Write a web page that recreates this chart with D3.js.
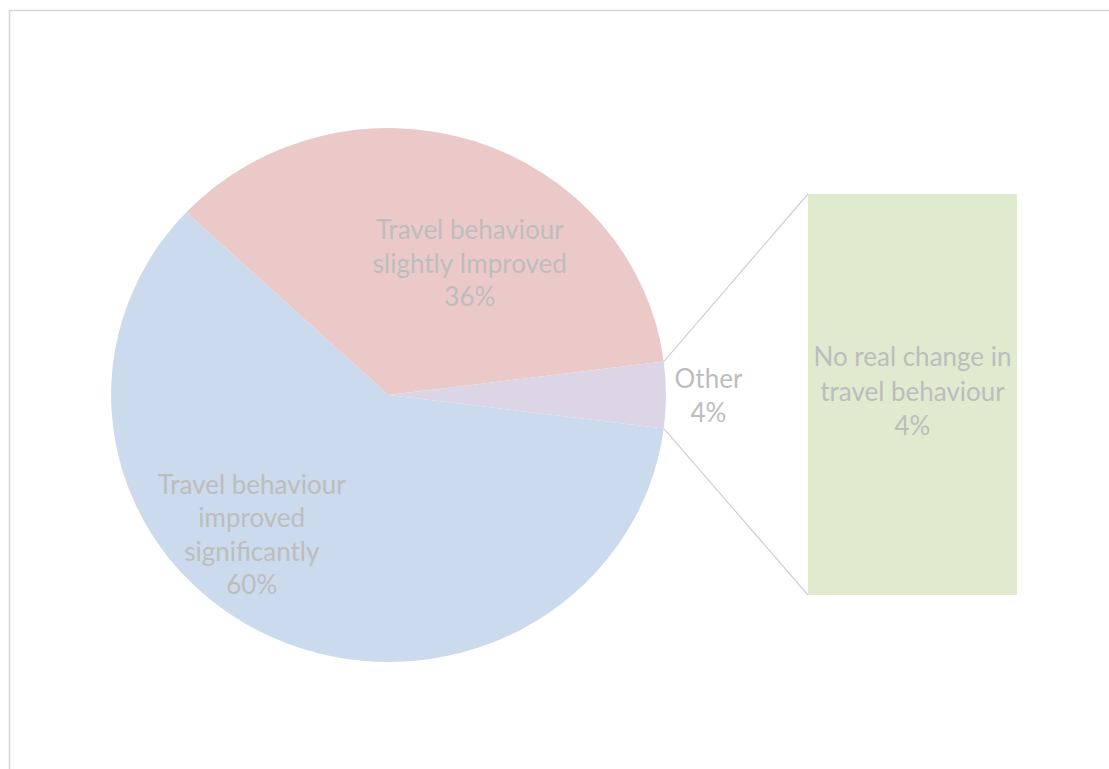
<!DOCTYPE html>
<html>
<head>
<meta charset="utf-8">
<script src="https://cdn.jsdelivr.net/npm/d3@7"></script>
<style>
  body { margin: 0; background: #fff; }
  svg text { font-family: Lato, "Open Sans", sans-serif; fill: #bdbdbd; }
</style>
</head>
<body>
<div id="chart"></div>
<script>
// pie slices (Other = sum of the bar values)
const pieNames = ["Travel behaviour improved significantly", "Travel behaviour slightly Improved", "Other"];
const pieValues = [60, 36, 4];
const pieLines = [["Travel behaviour", "improved", "significantly", "60%"],
                  ["Travel behaviour", "slightly Improved", "36%"],
                  ["Other", "4%"]];
// secondary bar
const barNames = ["No real change in travel behaviour"];
const barValues = [4];
const barLines = [["No real change in", "travel behaviour", "4%"]];

const colors = ["#cbdaec", "#ecc9c9", "#dcd5e5"];
const barColor = "#e0eacf";

const W = 1109, H = 769;
const svg = d3.select("#chart").append("svg")
    .attr("width", W)
    .attr("height", H);

// frame
svg.append("rect")
    .attr("x", 9.5).attr("y", 10.5)
    .attr("width", 1200).attr("height", 900)
    .attr("fill", "none")
    .attr("stroke", "#d6d6d6")
    .attr("stroke-width", 1.5);

const cx = 388.5, cy = 395, r = 267, sx = 1.039;
const fs = 26;

// Other slice centred at 3 o'clock
const otherAngle = 2 * Math.PI * pieValues[2] / d3.sum(pieValues);
const start = Math.PI / 2 + otherAngle / 2;

const pie = d3.pie().sort(null).value(d => d)
    .startAngle(start).endAngle(start + 2 * Math.PI);
const arcs = pie(pieValues);
const arc = d3.arc().innerRadius(0).outerRadius(r);

const g = svg.append("g").attr("transform", `translate(${cx},${cy})`);
g.append("g").attr("transform", `scale(${sx},1)`)
    .selectAll("path")
    .data(arcs)
    .enter().append("path")
    .attr("d", arc)
    .attr("fill", (d, i) => colors[i]);

// label anchors (polar: angle clockwise from top in deg, distance)
const labelPos = [{a: 223, d: 193}, {a: 31, d: 152}, {a: 90, d: 320}];
const labelDy = [8, 8, 10];
const lh = 33.5;
arcs.forEach((d, i) => {
    const p = labelPos[i];
    const a = p.a * Math.PI / 180;
    const x = cx + p.d * Math.sin(a) * (i === 2 ? 1 : sx);
    const y = cy - p.d * Math.cos(a);
    const lines = pieLines[i];
    const t = svg.append("text")
        .attr("text-anchor", "middle")
        .attr("font-size", fs);
    lines.forEach((s, j) => {
        t.append("tspan")
            .attr("x", x)
            .attr("y", y + (j - (lines.length - 1) / 2) * lh + labelDy[i])
            .text(s);
    });
});

// bar of pie
const barX = 808, barW = 209;
const y = d3.scaleLinear().domain([0, d3.sum(barValues)]).range([595, 194]);
svg.selectAll(".bar")
    .data(barValues)
    .enter().append("rect")
    .attr("class", "bar")
    .attr("x", barX)
    .attr("width", barW)
    .attr("y", (d, i) => y(d3.sum(barValues.slice(0, i + 1))))
    .attr("height", d => y(0) - y(d))
    .attr("fill", barColor);

// connector lines from Other slice edges to bar corners
const other = arcs[2];
const edge = a => [cx + r * sx * Math.sin(a), cy - r * Math.cos(a)];
[[other.startAngle, y(d3.sum(barValues))], [other.endAngle, y(0)]].forEach(([a, by]) => {
    const p = edge(a);
    svg.append("line")
        .attr("x1", p[0]).attr("y1", p[1])
        .attr("x2", barX).attr("y2", by)
        .attr("stroke", "#cfcfcf")
        .attr("stroke-width", 1.2);
});

barValues.forEach((v, i) => {
    const mid = (y(d3.sum(barValues.slice(0, i))) + y(d3.sum(barValues.slice(0, i + 1)))) / 2;
    const lines = barLines[i];
    const t = svg.append("text")
        .attr("text-anchor", "middle")
        .attr("font-size", fs);
    lines.forEach((s, j) => {
        t.append("tspan")
            .attr("x", barX + barW / 2)
            .attr("y", mid + (j - (lines.length - 1) / 2) * 34.5 + 6)
            .text(s);
    });
});
</script>
</body>
</html>
